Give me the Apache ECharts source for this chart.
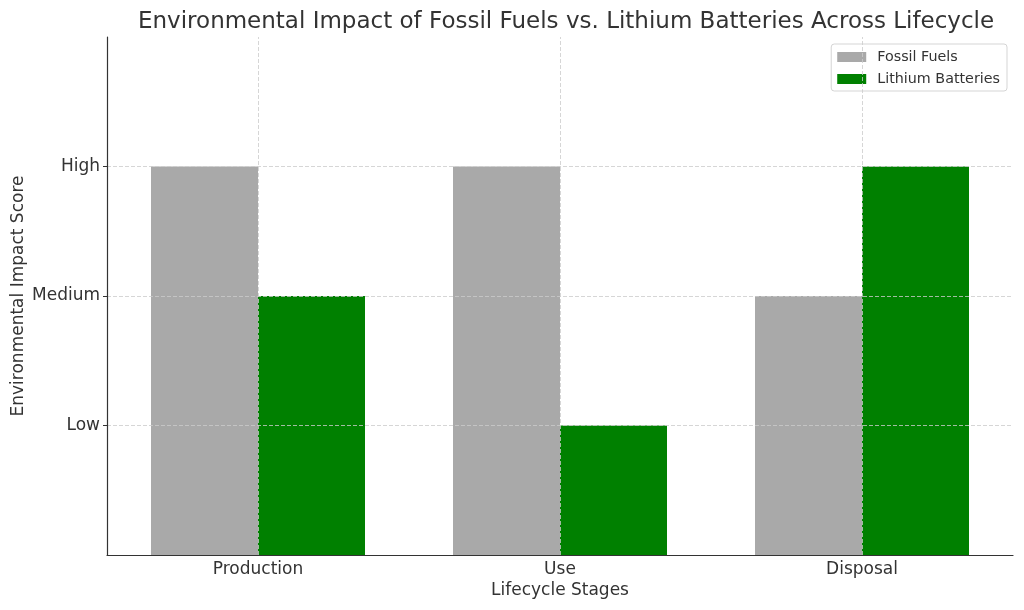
<!DOCTYPE html>
<html>
<head>
<meta charset="utf-8">
<script src="https://cdn.jsdelivr.net/npm/echarts@6/dist/echarts.min.js"></script>
<style>
  html, body { margin: 0; padding: 0; background: #fff; }
  #chart { width: 1024px; height: 610px; }
</style>
</head>
<body>
<div id="chart"></div>
<script>
// data
const stages = ["Production", "Use", "Disposal"];
const fossilFuels = [3, 3, 2];
const lithiumBatteries = [2, 1, 3];
const scoreTicks = [1, 2, 3];
const scoreLabels = ["Low", "Medium", "High"];

const font = "DejaVu Sans";
const gridLine = { color: "#cccccc", type: [4, 2], width: 0.8 };

const chart = echarts.init(document.getElementById("chart"));

const option = {
  backgroundColor: "#fff",
  textStyle: { fontFamily: font },
  title: {
    text: "Environmental Impact of Fossil Fuels vs. Lithium Batteries Across Lifecycle",
    left: 133,
    top: 6,
    textStyle: { fontFamily: font, fontSize: 23, fontWeight: "normal", color: "#333" }
  },
  legend: {
    right: 17,
    top: 44,
    orient: "vertical",
    icon: "rect",
    itemWidth: 29,
    itemHeight: 10,
    itemGap: 6,
    padding: [5, 7, 4, 6],
    borderColor: "#d5d5d5",
    borderWidth: 1,
    borderRadius: 3,
    textStyle: { fontFamily: font, fontSize: 14.3, color: "#333", lineHeight: 16, padding: [0, 0, 0, 6] },
    data: ["Fossil Fuels", "Lithium Batteries"]
  },
  grid: { left: 107, right: 11, top: 37, bottom: 55, containLabel: false, outerBoundsMode: "none" },
  xAxis: {
    type: "category",
    data: stages,
    name: "Lifecycle Stages",
    nameLocation: "middle",
    nameGap: 27,
    nameMoveOverlap: false,
    nameTextStyle: { fontFamily: font, fontSize: 17, color: "#333" },
    axisLine: { lineStyle: { color: "#333", width: 1.2 } },
    axisTick: { alignWithLabel: true, length: 4, lineStyle: { color: "#333" } },
    axisLabel: { fontFamily: font, fontSize: 17, color: "#333", margin: 6 },
    splitLine: { show: false }
  },
  yAxis: {
    type: "value",
    min: 0,
    max: 4,
    interval: 1,
    z: 5,
    name: "Environmental Impact Score",
    nameLocation: "middle",
    nameGap: 80,
    nameMoveOverlap: false,
    nameTextStyle: { fontFamily: font, fontSize: 17, color: "#333" },
    axisLine: { show: true, lineStyle: { color: "#333", width: 1.2 } },
    axisTick: { show: true, length: 4, customValues: scoreTicks, lineStyle: { color: "#333" } },
    axisLabel: {
      fontFamily: font, fontSize: 17, color: "#333", margin: 7,
      customValues: scoreTicks,
      formatter: v => scoreLabels[scoreTicks.indexOf(v)] || ""
    },
    splitLine: { show: true, lineStyle: gridLine }
  },
  series: [
    {
      name: "Fossil Fuels",
      type: "bar",
      data: fossilFuels,
      barWidth: 107,
      barGap: "0%",
      itemStyle: { color: "#a9a9a9" }
    },
    {
      name: "Lithium Batteries",
      type: "bar",
      data: lithiumBatteries,
      barWidth: 107,
      barGap: "0%",
      itemStyle: { color: "#008000" }
    },
    {
      // vertical grid lines at the category centres, drawn above the bars
      name: "grid",
      type: "line",
      data: [],
      z: 6,
      markLine: {
        silent: true,
        symbol: "none",
        z: 6,
        label: { show: false },
        lineStyle: gridLine,
        data: stages.map(s => ({ xAxis: s }))
      }
    }
  ]
};

chart.setOption(option);
</script>
</body>
</html>
